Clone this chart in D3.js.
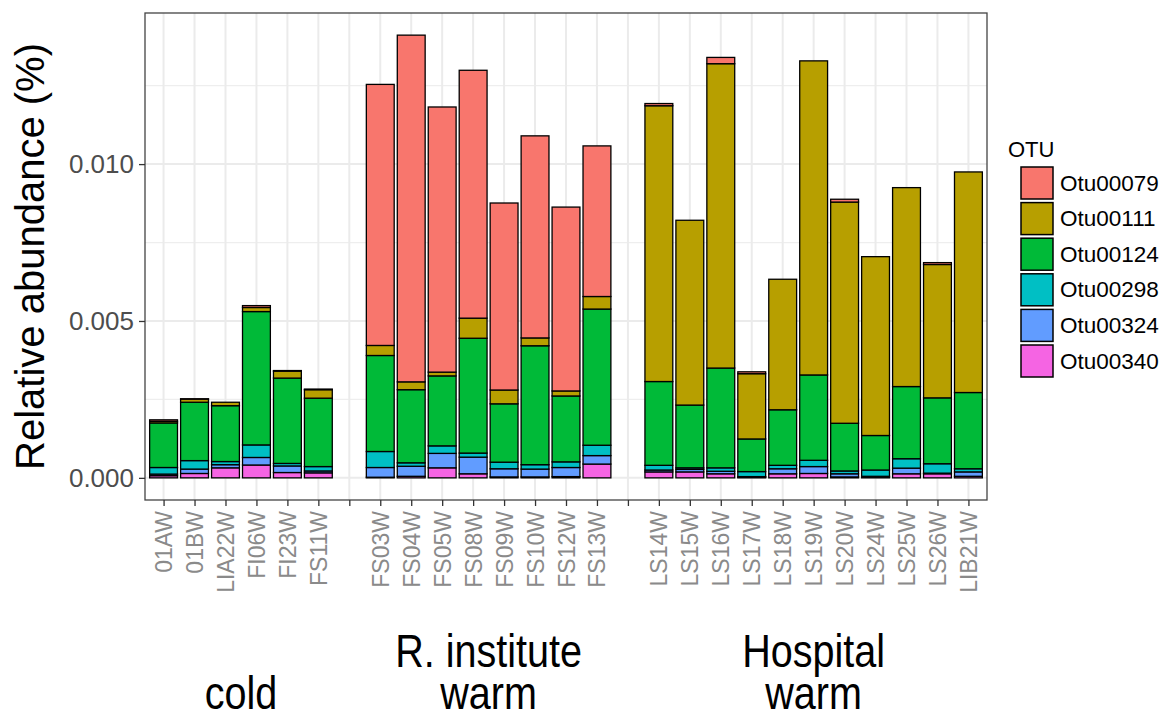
<!DOCTYPE html>
<html>
<head>
<meta charset="utf-8">
<script src="https://cdn.jsdelivr.net/npm/d3@7"></script>
<style>
  body { margin: 0; background: #fff; }
  svg { display: block; font-family: "Liberation Sans", Arial, Helvetica, sans-serif; }
</style>
</head>
<body>
<div class="chart"></div>
<script>
// samples per site, in plotting order
var coldSamples = ["01AW", "01BW", "LIA22W", "FI06W", "FI23W", "FS11W"];
var instituteSamples = ["FS03W", "FS04W", "FS05W", "FS08W", "FS09W", "FS10W", "FS12W", "FS13W"];
var hospitalSamples = ["LS14W", "LS15W", "LS16W", "LS17W", "LS18W", "LS19W", "LS20W", "LS24W", "LS25W", "LS26W", "LIB21W"];

var otus = ["Otu00079", "Otu00111", "Otu00124", "Otu00298", "Otu00324", "Otu00340"];
var otuColors = ["#F8766D", "#B79F00", "#00BA38", "#00BFC4", "#619CFF", "#F564E3"];

// relative abundance per OTU, same order as the samples above (cold, institute, hospital)
var otu00079 = [0.00005, 0.00001, 0.00000, 0.00006, 0.00002, 0.00002,
                0.00832, 0.01105, 0.00845, 0.00790, 0.00596, 0.00644, 0.00586, 0.00480,
                0.00007, 0.00000, 0.00020, 0.00006, 0.00000, 0.00000, 0.00009, 0.00000, 0.00000, 0.00006, 0.00000];
var otu00111 = [0.00005, 0.00010, 0.00011, 0.00013, 0.00022, 0.00027,
                0.00032, 0.00025, 0.00012, 0.00064, 0.00044, 0.00025, 0.00016, 0.00040,
                0.00879, 0.00589, 0.00970, 0.00208, 0.00416, 0.01001, 0.00705, 0.00570, 0.00634, 0.00425, 0.00703];
var otu00124 = [0.00142, 0.00186, 0.00178, 0.00425, 0.00272, 0.00218,
                0.00306, 0.00233, 0.00223, 0.00366, 0.00186, 0.00379, 0.00210, 0.00434,
                0.00267, 0.00200, 0.00318, 0.00104, 0.00177, 0.00272, 0.00152, 0.00110, 0.00230, 0.00210, 0.00243];
var otu00298 = [0.00021, 0.00027, 0.00010, 0.00040, 0.00008, 0.00014,
                0.00051, 0.00011, 0.00024, 0.00013, 0.00021, 0.00014, 0.00018, 0.00033,
                0.00015, 0.00005, 0.00011, 0.00016, 0.00011, 0.00020, 0.00009, 0.00020, 0.00030, 0.00030, 0.00010];
var otu00324 = [0.00005, 0.00014, 0.00010, 0.00024, 0.00021, 0.00006,
                0.00031, 0.00032, 0.00046, 0.00053, 0.00026, 0.00025, 0.00029, 0.00027,
                0.00006, 0.00008, 0.00008, 0.00002, 0.00016, 0.00022, 0.00010, 0.00003, 0.00018, 0.00002, 0.00014];
var otu00340 = [0.00007, 0.00014, 0.00032, 0.00041, 0.00017, 0.00016,
                0.00002, 0.00005, 0.00032, 0.00013, 0.00003, 0.00003, 0.00004, 0.00044,
                0.00019, 0.00019, 0.00013, 0.00002, 0.00013, 0.00014, 0.00003, 0.00002, 0.00013, 0.00013, 0.00005];

var yTicks = [0, 0.005, 0.010];
var yMinorTicks = [0.0025, 0.0075, 0.0125];

var groupLabels = [
  {first: "R. institute", second: "warm", samples: instituteSamples},
  {first: "Hospital", second: "warm", samples: hospitalSamples},
  {first: "", second: "cold", samples: coldSamples}
];

var W = 1169, H = 716;
var panel = {left: 145, right: 987, top: 13, bottom: 500};

var svg = d3.select(".chart").append("svg")
    .attr("width", W)
    .attr("height", H);

// build the table: one row per sample
var samples = coldSamples.concat(instituteSamples, hospitalSamples);
var series = [otu00079, otu00111, otu00124, otu00298, otu00324, otu00340];
var table = samples.map(function(s, i) {
  var row = {sample: s};
  otus.forEach(function(o, k) { row[o] = series[k][i]; });
  return row;
});

// empty slots between the sites
var slots = coldSamples.concat(["gap1"], instituteSamples, ["gap2"], hospitalSamples);

var x = d3.scalePoint()
    .domain(slots)
    .range([panel.left, panel.right])
    .padding(0.6);

var barW = x.step() * 0.9;

var stack = d3.stack().keys(otus.slice().reverse());
var stacked = stack(table);

var ymax = d3.max(table, function(d) { return d3.sum(otus, function(o) { return d[o]; }); });
var y = d3.scaleLinear()
    .domain([-ymax * 0.05, ymax * 1.05])
    .range([panel.bottom, panel.top]);

var color = d3.scaleOrdinal().domain(otus).range(otuColors);

// grid
svg.append("g").selectAll("line")
    .data(yMinorTicks)
  .enter().append("line")
    .attr("x1", panel.left).attr("x2", panel.right)
    .attr("y1", function(d) { return y(d); }).attr("y2", function(d) { return y(d); })
    .attr("stroke", "#EEEEEE").attr("stroke-width", 1.2);

svg.append("g").selectAll("line")
    .data(yTicks)
  .enter().append("line")
    .attr("x1", panel.left).attr("x2", panel.right)
    .attr("y1", function(d) { return y(d); }).attr("y2", function(d) { return y(d); })
    .attr("stroke", "#EBEBEB").attr("stroke-width", 2);

svg.append("g").selectAll("line")
    .data(slots)
  .enter().append("line")
    .attr("x1", function(d) { return x(d); }).attr("x2", function(d) { return x(d); })
    .attr("y1", panel.top).attr("y2", panel.bottom)
    .attr("stroke", "#EBEBEB").attr("stroke-width", 2);

// bars
svg.append("g").selectAll("g")
    .data(stacked)
  .enter().append("g")
    .attr("fill", function(d) { return color(d.key); })
  .selectAll("rect")
    .data(function(d) { return d; })
  .enter().append("rect")
    .attr("x", function(d) { return x(d.data.sample) - barW / 2; })
    .attr("y", function(d) { return y(d[1]); })
    .attr("width", barW)
    .attr("height", function(d) { return Math.max(0, y(d[0]) - y(d[1])); })
    .attr("stroke", "black")
    .attr("stroke-width", 1.3);

// panel border
svg.append("rect")
    .attr("x", panel.left).attr("y", panel.top)
    .attr("width", panel.right - panel.left)
    .attr("height", panel.bottom - panel.top)
    .attr("fill", "none")
    .attr("stroke", "#444")
    .attr("stroke-width", 1.3);

// y axis
var yAxis = d3.axisLeft(y)
    .tickValues(yTicks)
    .tickSize(6)
    .tickPadding(5)
    .tickFormat(d3.format(".3f"));

var gy = svg.append("g")
    .attr("transform", "translate(" + panel.left + ",0)")
    .call(yAxis);
gy.select(".domain").remove();
gy.selectAll(".tick line").attr("stroke", "#333").attr("stroke-width", 1.3);
gy.selectAll(".tick text")
    .attr("fill", "#4D4D4D")
    .style("font-size", "26px")
    .style("font-family", "'Liberation Sans', Arial, sans-serif");

// x axis
var xAxis = d3.axisBottom(x)
    .tickSize(6)
    .tickFormat(function(d) { return d.indexOf("gap") === 0 ? "" : d; });

var gx = svg.append("g")
    .attr("transform", "translate(0," + panel.bottom + ")")
    .call(xAxis);
gx.select(".domain").remove();
gx.selectAll(".tick line").attr("stroke", "#333").attr("stroke-width", 1.3);
gx.selectAll(".tick text")
    .attr("fill", "#8A8A8A")
    .attr("text-anchor", "end")
    .attr("dy", null)
    .attr("dominant-baseline", "central")
    .attr("transform", "translate(0,1) rotate(-90)")
    .attr("x", -10)
    .attr("y", 0)
    .style("font-size", "23px")
    .style("font-family", "'Liberation Sans', Arial, sans-serif");

// y title
svg.append("text")
    .attr("text-anchor", "middle")
    .attr("transform", "translate(" + 44 + "," + ((panel.top + panel.bottom) / 2) + ")rotate(-90)")
    .style("font-size", "40px")
    .attr("fill", "black")
    .text("Relative abundance (%)");

// site labels under the axis
groupLabels.forEach(function(g) {
  var cx = (x(g.samples[0]) + x(g.samples[g.samples.length - 1])) / 2;
  [g.first, g.second].forEach(function(t, i) {
    if (!t) return;
    svg.append("text")
        .attr("text-anchor", "middle")
        .attr("transform", "translate(" + cx + "," + (i === 0 ? 667 : 709) + ")scale(0.86,1)")
        .style("font-size", "46px")
        .attr("fill", "black")
        .text(t);
  });
});

// legend
var legend = svg.append("g")
    .attr("transform", "translate(1008,0)");

legend.append("text")
    .attr("x", 0)
    .attr("y", 157)
    .style("font-size", "22px")
    .text("OTU");

var item = legend.selectAll(".item")
    .data(otus)
  .enter().append("g")
    .attr("class", "item")
    .attr("transform", function(d, i) { return "translate(0," + (166 + i * 35.6) + ")"; });

item.append("rect")
    .attr("x", 13)
    .attr("y", 1)
    .attr("width", 32)
    .attr("height", 32)
    .attr("fill", function(d) { return color(d); })
    .attr("stroke", "black")
    .attr("stroke-width", 1.5);

item.append("text")
    .attr("x", 52)
    .attr("y", 17)
    .attr("dominant-baseline", "central")
    .style("font-size", "22.5px")
    .text(function(d) { return d; });
</script>
</body>
</html>
